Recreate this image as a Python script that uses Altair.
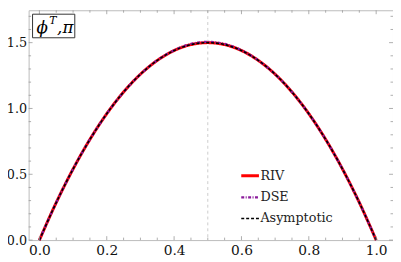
import altair as alt
import pandas as pd

# ---- data ----
x_vals = [0.0, 0.05, 0.1, 0.15, 0.2, 0.25, 0.3, 0.35, 0.4, 0.45, 0.5,
          0.55, 0.6, 0.65, 0.7, 0.75, 0.8, 0.85, 0.9, 0.95, 1.0]
riv = [0.0, 0.285, 0.54, 0.765, 0.96, 1.125, 1.26, 1.365, 1.44, 1.485, 1.5,
       1.485, 1.44, 1.365, 1.26, 1.125, 0.96, 0.765, 0.54, 0.285, 0.0]
dse = [0.0, 0.285, 0.54, 0.765, 0.96, 1.125, 1.26, 1.366, 1.442, 1.49, 1.506,
       1.49, 1.442, 1.366, 1.26, 1.125, 0.96, 0.765, 0.54, 0.285, 0.0]
asym = [0.0, 0.285, 0.54, 0.765, 0.96, 1.125, 1.26, 1.365, 1.44, 1.485, 1.5,
        1.485, 1.44, 1.365, 1.26, 1.125, 0.96, 0.765, 0.54, 0.285, 0.0]
series_names = ["RIV", "DSE", "Asymptotic"]
series_colors = ["#ff0000", "#8b1a9b", "#000000"]
x_major = [0.0, 0.2, 0.4, 0.6, 0.8, 1.0]
x_minor = [0.05, 0.1, 0.15, 0.25, 0.3, 0.35, 0.45, 0.5, 0.55, 0.65, 0.7, 0.75,
           0.85, 0.9, 0.95]
y_major = [0.0, 0.5, 1.0, 1.5]
y_minor = [0.1, 0.2, 0.3, 0.4, 0.6, 0.7, 0.8, 0.9, 1.1, 1.2, 1.3, 1.4, 1.6, 1.7]

W, H = 371, 234
FONT = "DejaVu Serif"

rows = []
for name, ys in zip(series_names, [riv, dse, asym]):
    for xv, yv in zip(x_vals, ys):
        rows.append({"x": xv, "y": yv, "series": name})
df = pd.DataFrame(rows)

xscale = alt.Scale(domain=[-0.032, 1.05], nice=False, zero=False)
yscale = alt.Scale(domain=[0, 1.746], nice=False)

color = alt.Color("series:N", scale=alt.Scale(domain=series_names, range=series_colors),
                  legend=alt.Legend(title=None, orient="none", legendX=215, legendY=158,
                                    symbolType="stroke", symbolSize=324,
                                    labelFont=FONT, labelFontSize=13, labelColor="#222",
                                    rowPadding=4, labelOffset=0))
dash = alt.StrokeDash("series:N", scale=alt.Scale(domain=series_names,
                                                  range=[[1, 0], [3, 1.5, 1, 1.5], [3, 2]]),
                      legend=None)
swidth = alt.StrokeWidth("series:N", scale=alt.Scale(domain=series_names, range=[3, 1.6, 2]),
                         legend=None)

xaxis = alt.Axis(values=x_major, format=".1f", ticks=False, domain=False, grid=False,
                 labelFont=FONT, labelFontSize=14, labelColor="#111", labelPadding=4)
yaxis = alt.Axis(values=y_major, format=".1f", ticks=False, domain=False, grid=False,
                 labelFont=FONT, labelFontSize=13, labelColor="#111", labelPadding=2)

grid = alt.Chart(pd.DataFrame({"v": [0.5]})).mark_rule(
    color="#cccccc", strokeDash=[3, 3], strokeWidth=1).encode(
    x=alt.X("v:Q", scale=xscale, axis=xaxis, title=None))

layers = [grid]
for name in series_names:
    layers.append(
        alt.Chart(df).transform_filter(alt.datum.series == name).mark_line(
            interpolate="monotone").encode(
            x=alt.X("x:Q", scale=xscale, axis=xaxis, title=None),
            y=alt.Y("y:Q", scale=yscale, axis=yaxis, title=None),
            color=color, strokeDash=dash, strokeWidth=swidth))

tick_col = "#999999"
def xticks(vals, length):
    d = pd.DataFrame({"v": vals})
    b = alt.Chart(d).mark_rule(color=tick_col, strokeWidth=0.8).encode(
        x=alt.X("v:Q", scale=xscale), y=alt.value(H), y2=alt.value(H - length))
    t = alt.Chart(d).mark_rule(color=tick_col, strokeWidth=0.8).encode(
        x=alt.X("v:Q", scale=xscale), y=alt.value(0), y2=alt.value(length))
    return [b, t]

def yticks(vals, length):
    d = pd.DataFrame({"v": vals})
    l = alt.Chart(d).mark_rule(color=tick_col, strokeWidth=0.8).encode(
        y=alt.Y("v:Q", scale=yscale), x=alt.value(0), x2=alt.value(length))
    r = alt.Chart(d).mark_rule(color=tick_col, strokeWidth=0.8).encode(
        y=alt.Y("v:Q", scale=yscale), x=alt.value(W), x2=alt.value(W - length))
    return [l, r]

layers += xticks(x_major, 4) + xticks(x_minor, 2.5) + yticks(y_major, 4) + yticks(y_minor, 2.5)

# label box
box = alt.Chart(pd.DataFrame({"a": [0]})).mark_rect(
    fill="white", stroke="#333333", strokeWidth=1).encode(
    x=alt.value(4), x2=alt.value(47), y=alt.value(4), y2=alt.value(28))
t1 = alt.Chart(pd.DataFrame({"t": ["ϕ"]})).mark_text(
    font=FONT, fontSize=17, fontStyle="italic", align="left", baseline="alphabetic",
    color="#000").encode(text="t:N", x=alt.value(8), y=alt.value(23))
t2 = alt.Chart(pd.DataFrame({"t": ["T"]})).mark_text(
    font=FONT, fontSize=11, fontStyle="italic", align="left", baseline="alphabetic",
    color="#000").encode(text="t:N", x=alt.value(21), y=alt.value(14))
t3 = alt.Chart(pd.DataFrame({"t": [",π"]})).mark_text(
    font=FONT, fontSize=17, fontStyle="italic", align="left", baseline="alphabetic",
    color="#000").encode(text="t:N", x=alt.value(29), y=alt.value(23))
layers += [box, t1, t2, t3]

chart = alt.layer(*layers).properties(
    width=W, height=H,
    background="white",
    autosize=alt.AutoSizeParams(type="none"),
    padding={"left": 21, "top": 0, "right": 0, "bottom": 20},
).configure_view(stroke="#bbbbbb", strokeWidth=1).configure_axis(
    labelFont=FONT).configure_legend(labelFont=FONT).configure_text(font=FONT)

chart.save("out.html", embed_options={"renderer": "svg", "actions": False})
